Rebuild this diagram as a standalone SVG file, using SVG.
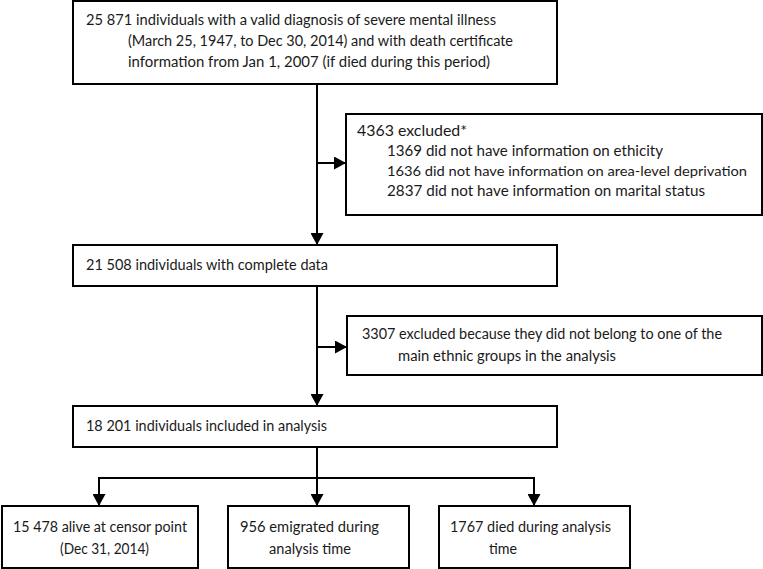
<svg xmlns="http://www.w3.org/2000/svg" width="763" height="569" viewBox="0 0 763 569">
<defs>
<marker id="ah" markerUnits="userSpaceOnUse" markerWidth="13" markerHeight="13" viewBox="0 0 12 13" refX="12" refY="6.5" orient="auto">
<path d="M0,0 L12,6.5 L0,13 Z" fill="#000"/>
</marker>
<style>
.box{fill:#fff;stroke:#000;stroke-width:2}
.t{font-family:Lato,"Liberation Sans",sans-serif;font-size:15.5px;fill:#1a1a1a}
.s{font-size:14px}
.c{font-family:Lato,"Liberation Sans",sans-serif;font-size:15.5px;fill:#1a1a1a}
.ln{fill:none;stroke:#000;stroke-width:2}
</style>
</defs>
<g id="connectors">
<path class="ln" d="M317,84 V245" marker-end="url(#ah)"/>
<path class="ln" d="M317,163 H346" marker-end="url(#ah)"/>
<path class="ln" d="M317,286 V406" marker-end="url(#ah)"/>
<path class="ln" d="M317,347 H347" marker-end="url(#ah)"/>
<path class="ln" d="M317,447 V506" marker-end="url(#ah)"/>
<path class="ln" d="M99,506 V478 H534 V506" marker-end="url(#ah)"/>
<path class="ln" d="M99,478 V506" marker-end="url(#ah)"/>
</g>
<g id="n1">
<rect class="box" x="73" y="1" width="484" height="83"/>
<text class="t" x="86" y="25" textLength="410" lengthAdjust="spacingAndGlyphs">25 871 individuals with a valid diagnosis of severe mental illness</text>
<text class="t" x="128" y="46" textLength="385" lengthAdjust="spacingAndGlyphs">(March 25, 1947, to Dec 30, 2014) and with death certificate</text>
<text class="t" x="128" y="67" textLength="362" lengthAdjust="spacingAndGlyphs">information from Jan 1, 2007 (if died during this period)</text>
</g>
<g id="n2">
<rect class="box" x="346" y="114" width="416" height="101"/>
<text class="t" x="357" y="136" textLength="110" lengthAdjust="spacingAndGlyphs">4363 excluded*</text>
<text class="t" x="387" y="156" textLength="276" lengthAdjust="spacingAndGlyphs">1369 did not have information on ethicity</text>
<text class="t s" x="387" y="176" textLength="360" lengthAdjust="spacingAndGlyphs">1636 did not have information on area-level deprivation</text>
<text class="t" x="387" y="196" textLength="318" lengthAdjust="spacingAndGlyphs">2837 did not have information on marital status</text>
</g>
<g id="n3">
<rect class="box" x="73" y="245" width="484" height="41"/>
<text class="t" x="86" y="270" textLength="242" lengthAdjust="spacingAndGlyphs">21 508 individuals with complete data</text>
</g>
<g id="n4">
<rect class="box" x="347" y="316" width="415" height="59"/>
<text class="t" x="362" y="339" textLength="360" lengthAdjust="spacingAndGlyphs">3307 excluded because they did not belong to one of the</text>
<text class="t" x="398" y="361" textLength="218" lengthAdjust="spacingAndGlyphs">main ethnic groups in the analysis</text>
</g>
<g id="n5">
<rect class="box" x="73" y="406" width="484" height="41"/>
<text class="t" x="86" y="431" textLength="241" lengthAdjust="spacingAndGlyphs">18 201 individuals included in analysis</text>
</g>
<g id="n6">
<rect class="box" x="2" y="506" width="196" height="62"/>
<text class="c" x="13" y="532" textLength="174" lengthAdjust="spacingAndGlyphs">15 478 alive at censor point</text>
<text class="c" x="60" y="554" textLength="89" lengthAdjust="spacingAndGlyphs">(Dec 31, 2014)</text>
</g>
<g id="n7">
<rect class="box" x="228" y="506" width="181" height="62"/>
<text class="c" x="240" y="532" textLength="139" lengthAdjust="spacingAndGlyphs">956 emigrated during</text>
<text class="c" x="269" y="554" textLength="82" lengthAdjust="spacingAndGlyphs">analysis time</text>
</g>
<g id="n8">
<rect class="box" x="439" y="506" width="191" height="62"/>
<text class="c" x="450" y="532" textLength="161" lengthAdjust="spacingAndGlyphs">1767 died during analysis</text>
<text class="c" x="489" y="554" textLength="28" lengthAdjust="spacingAndGlyphs">time</text>
</g>
</svg>
